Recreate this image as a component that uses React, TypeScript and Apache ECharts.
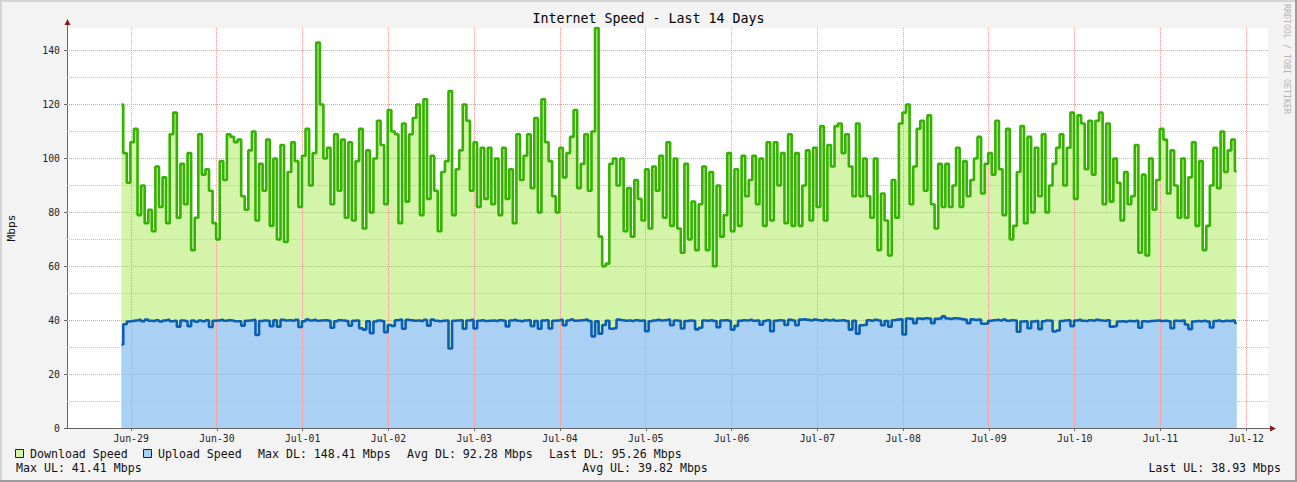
import React, { useEffect, useRef } from "react";
import * as echarts from "echarts";

// ---------- data ----------
// hours are counted from Jun-29 00:00; one sample per hour
const FIRST_SAMPLE_HOUR = -2.7;
const X_MIN_HOUR = -17.93;
const X_MAX_HOUR = 318.07;

const dayLabels = [
  "Jun-29", "Jun-30", "Jul-01", "Jul-02", "Jul-03", "Jul-04", "Jul-05",
  "Jul-06", "Jul-07", "Jul-08", "Jul-09", "Jul-10", "Jul-11", "Jul-12",
];
const dayHours = [0, 24, 48, 72, 96, 120, 144, 168, 192, 216, 240, 264, 288, 312];
const yMajorTicks = [0, 20, 40, 60, 80, 100, 120, 140];
const yMinorTicks = [10, 30, 50, 70, 90, 110, 130];
const Y_MAX = 148.41;

const downloadMbps = [
  120, 102, 91, 106, 111, 79, 90, 76, 81, 73, 97, 82, 93, 76, 109, 117, 78, 98, 83, 102, 66, 78, 109, 94, 96, 88, 76, 70, 99, 92, 109, 108, 106,
  107, 86, 81, 103, 110, 77, 98, 88, 107, 75, 100, 70, 105, 69, 95, 106, 99, 82, 101, 111, 90, 102, 143, 120, 100, 104, 83, 109, 88, 107, 78, 106, 77, 99, 111,
  74, 103, 80, 100, 114, 105, 83, 118, 110, 109, 76, 113, 84, 109, 115, 120, 79, 122, 85, 101, 88, 73, 95, 99, 125, 79, 96, 103, 120, 114, 88, 106, 82, 104, 85,
  104, 83, 100, 79, 104, 85, 96, 76, 109, 92, 101, 109, 89, 115, 80, 122, 106, 99, 86, 80, 104, 93, 102, 108, 118, 89, 98, 109, 88, 110, 148.41, 71, 60, 61, 98,
  100, 90, 100, 73, 89, 71, 92, 85, 77, 96, 74, 97, 88, 101, 78, 106, 75, 100, 74, 65, 98, 70, 84, 66, 83, 97, 66, 95, 60, 90, 71, 79, 102, 73, 96,
  75, 101, 86, 92, 101, 83, 100, 75, 106, 77, 106, 90, 102, 76, 109, 75, 102, 75, 90, 103, 77, 104, 82, 112, 77, 105, 97, 112, 113, 102, 109, 97, 86, 113, 86,
  100, 86, 78, 100, 66, 87, 77, 64, 92, 78, 113, 117, 120, 83, 97, 111, 114, 88, 116, 83, 74, 98, 82, 98, 82, 90, 104, 82, 99, 86, 92, 100, 108, 87, 98,
  102, 94, 114, 96, 79, 111, 70, 75, 95, 112, 76, 108, 80, 104, 86, 109, 80, 90, 98, 104, 109, 90, 104, 117, 85, 116, 113, 96, 114, 94, 114, 117, 83, 113, 84,
  100, 91, 77, 95, 83, 86, 105, 65, 94, 64, 100, 81, 92, 111, 107, 87, 103, 90, 78, 100, 78, 93, 106, 75, 99, 66, 75, 90, 104, 89, 110, 95, 103, 107, 95.26,
];

const uploadMbps = [
  31, 38.5, 39.5, 39.7, 39.9, 40.1, 39.6, 40.2, 39.8, 39.7, 40.0, 39.5, 39.9, 40.1, 39.6, 39.8, 37.6, 39.9, 39.7, 37.8, 39.9, 39.4, 39.9, 39.6, 40.0, 37.5, 39.8, 39.9, 40.1, 39.8, 40.0, 39.9, 39.6,
  39.6, 38.0, 39.8, 39.9, 40.1, 34.5, 39.7, 39.9, 39.8, 37.8, 40.0, 37.6, 40.1, 39.9, 40.0, 39.8, 40.1, 37.5, 39.6, 40.2, 39.9, 40.1, 39.8, 39.9, 40.0, 39.8, 37.2, 39.6, 40.0, 39.9, 39.7, 38.0, 39.8, 39.9, 37.0,
  36.5, 39.6, 35.2, 39.5, 39.9, 39.7, 35.5, 38.2, 37.9, 40.0, 40.2, 36.8, 40.1, 40.0, 39.8, 39.9, 39.7, 40.1, 38.0, 40.2, 39.8, 39.6, 39.8, 39.9, 29.5, 39.8, 39.9, 40.0, 36.8, 39.9, 40.1, 36.9, 39.8, 40.0, 39.7,
  39.8, 39.9, 39.7, 40.0, 39.8, 37.7, 39.9, 40.1, 39.8, 39.6, 39.9, 40.0, 37.8, 39.7, 36.8, 39.9, 40.0, 36.9, 39.8, 39.9, 40.1, 38.1, 39.9, 40.2, 39.8, 39.9, 40.0, 40.2, 39.7, 34.0, 39.6, 35.0, 38.2, 39.8, 36.8,
  37.0, 40.2, 40.0, 39.8, 39.9, 39.7, 40.0, 39.8, 39.9, 35.9, 39.6, 39.9, 40.1, 39.9, 40.0, 40.2, 38.1, 39.9, 39.8, 36.9, 39.7, 39.9, 39.8, 36.6, 37.2, 39.9, 39.8, 40.0, 39.7, 37.4, 39.9, 40.0, 39.8, 36.5, 37.9,
  39.8, 40.0, 39.9, 40.1, 39.8, 39.9, 38.3, 39.7, 40.0, 35.9, 39.8, 40.0, 39.9, 38.2, 40.1, 39.9, 38.1, 40.2, 40.3, 40.1, 39.9, 40.2, 40.0, 39.8, 40.1, 39.9, 40.1, 39.8, 39.9, 40.0, 39.7, 36.5, 39.8, 35.0, 38.1,
  38.2, 40.0, 39.8, 40.1, 39.9, 38.1, 39.7, 37.6, 40.0, 40.2, 40.3, 34.7, 40.6, 40.5, 38.9, 40.6, 40.5, 40.7, 40.6, 38.9, 40.5, 40.6, 41.41, 40.6, 40.5, 40.7, 40.6, 40.4, 40.2, 38.9, 40.3, 40.1, 40.2, 38.7, 38.8,
  39.8, 40.0, 40.1, 39.9, 40.2, 39.8, 40.0, 39.9, 35.7, 39.5, 39.6, 37.0, 39.5, 39.7, 36.7, 39.6, 39.9, 39.8, 35.8, 36.2, 39.7, 39.9, 40.0, 37.8, 39.9, 40.1, 39.8, 39.7, 40.0, 39.8, 40.1, 39.9, 39.8, 40.0, 37.6,
  37.8, 39.5, 39.6, 39.4, 39.7, 39.6, 39.8, 37.2, 39.6, 39.5, 39.7, 39.8, 39.9, 39.7, 39.8, 39.6, 37.0, 39.8, 39.7, 39.9, 38.4, 36.7, 39.5, 39.7, 39.6, 39.8, 39.5, 37.3, 39.7, 39.9, 39.6, 39.8, 39.7, 39.9, 38.93,
];

const legendRow1 = [
  { text: "Max DL: 148.41 Mbps", x: 258 },
  { text: "Avg DL: 92.28 Mbps", x: 407 },
  { text: "Last DL: 95.26 Mbps", x: 549 },
];

// ---------- styling ----------
const W = 1297;
const H = 482;
const FONT = '"DejaVu Sans Mono", "Liberation Mono", monospace';
const DL_FILL = "#d4f4aa";
const DL_LINE = "#33b200";
const UL_FILL = "#aad0f4";
const UL_LINE = "#0a5db5";
const MAJOR_COLOR = "#ec9a9a";
const MINOR_COLOR = "#c4c4c4";

function crisp(v: number) {
  return Math.round(v - 0.5) + 0.5;
}

function gridSeries(name: string, data: number[][], vertical: boolean, color: string) {
  return {
    name,
    type: "custom",
    data,
    encode: { x: 0, y: 1 },
    silent: true,
    z: 5,
    clip: true,
    renderItem: (params: any, api: any) => {
      const cs = params.coordSys;
      const p = api.coord([api.value(0), api.value(1)]);
      const shape = vertical
        ? { x1: crisp(p[0]), y1: cs.y, x2: crisp(p[0]), y2: cs.y + cs.height }
        : { x1: cs.x, y1: crisp(p[1]), x2: cs.x + cs.width, y2: crisp(p[1]) };
      return {
        type: "line",
        shape,
        style: { stroke: color, lineWidth: 1, lineDash: [1, 1] },
      };
    },
  };
}

function buildOption() {
  const dl = downloadMbps.map((v, i) => [FIRST_SAMPLE_HOUR + i, v]);
  const ul = uploadMbps.map((v, i) => [FIRST_SAMPLE_HOUR + i, v]);

  const textStyle = (size: number, color = "#111") => ({
    fontFamily: FONT,
    fontSize: size,
    fill: color,
  });

  const graphic: any[] = [
    // frame
    { type: "line", shape: { x1: 0, y1: 1, x2: W, y2: 1 }, style: { stroke: "#d4d4d4", lineWidth: 2 }, silent: true },
    { type: "line", shape: { x1: 1, y1: 0, x2: 1, y2: H }, style: { stroke: "#d4d4d4", lineWidth: 2 }, silent: true },
    { type: "line", shape: { x1: 0, y1: H - 1, x2: W, y2: H - 1 }, style: { stroke: "#9c9c9c", lineWidth: 2 }, silent: true },
    { type: "line", shape: { x1: W - 1, y1: 0, x2: W - 1, y2: H }, style: { stroke: "#9c9c9c", lineWidth: 2 }, silent: true },
    // axis extensions + arrows
    { type: "line", shape: { x1: 67.5, y1: 22, x2: 67.5, y2: 28 }, style: { stroke: "#666", lineWidth: 1 }, silent: true },
    { type: "line", shape: { x1: 1268, y1: 428.5, x2: 1272, y2: 428.5 }, style: { stroke: "#666", lineWidth: 1 }, silent: true },
    { type: "polygon", shape: { points: [[64.5, 25], [70.5, 25], [67.5, 19]] }, style: { fill: "#8b1a1a" }, silent: true },
    { type: "polygon", shape: { points: [[1270, 425.5], [1270, 431.5], [1276, 428.5]] }, style: { fill: "#8b1a1a" }, silent: true },
    // y-axis title
    {
      type: "text", x: 11, y: 228, rotation: Math.PI / 2, silent: true,
      style: { text: "Mbps", align: "center", verticalAlign: "middle", ...textStyle(11.2) },
    },
    // watermark
    {
      type: "text", x: 1287, y: 4, rotation: -Math.PI / 2, silent: true,
      style: { text: "RRDTOOL / TOBI OETIKER", align: "left", verticalAlign: "middle", ...textStyle(8.3, "#b4b4b4") },
    },
    // legend row 1
    { type: "rect", shape: { x: 15.5, y: 449.5, width: 8, height: 8 }, style: { fill: DL_FILL, stroke: "#222", lineWidth: 1 }, silent: true },
    { type: "text", x: 30, y: 454, silent: true, style: { text: "Download Speed", verticalAlign: "middle", ...textStyle(11.6) } },
    { type: "rect", shape: { x: 143.5, y: 449.5, width: 8, height: 8 }, style: { fill: UL_FILL, stroke: "#222", lineWidth: 1 }, silent: true },
    { type: "text", x: 158, y: 454, silent: true, style: { text: "Upload Speed", verticalAlign: "middle", ...textStyle(11.6) } },
    ...legendRow1.map((t) => ({
      type: "text", x: t.x, y: 454, silent: true,
      style: { text: t.text, verticalAlign: "middle", ...textStyle(11.6) },
    })),
    // legend row 2
    { type: "text", x: 16, y: 468, silent: true, style: { text: "Max UL: 41.41 Mbps", verticalAlign: "middle", ...textStyle(11.6) } },
    { type: "text", x: 645, y: 468, silent: true, style: { text: "Avg UL: 39.82 Mbps", align: "center", verticalAlign: "middle", ...textStyle(11.6) } },
    { type: "text", x: 1281, y: 468, silent: true, style: { text: "Last UL: 38.93 Mbps", align: "right", verticalAlign: "middle", ...textStyle(11.6) } },
  ];

  return {
    animation: false,
    backgroundColor: "#f3f3f3",
    title: {
      text: "Internet Speed - Last 14 Days",
      left: "center",
      top: 12,
      padding: 0,
      textStyle: { fontFamily: FONT, fontSize: 13.3, fontWeight: "normal", color: "#000" },
    },
    grid: {
      left: 67, top: 28, width: 1201, height: 400,
      show: true, backgroundColor: "#ffffff", borderWidth: 0,
      containLabel: false, outerBoundsMode: "none",
    },
    xAxis: {
      type: "value",
      min: X_MIN_HOUR,
      max: X_MAX_HOUR,
      splitLine: { show: false },
      axisLine: { show: true, onZero: false, lineStyle: { color: "#666", width: 1 } },
      axisTick: { show: true, customValues: dayHours, length: 3, lineStyle: { color: "#666" } },
      axisLabel: {
        show: true,
        customValues: dayHours,
        formatter: (v: number) => dayLabels[Math.round(v / 24)] ?? "",
        fontFamily: FONT, fontSize: 9.8, color: "#222", margin: 5,
      },
    },
    yAxis: {
      type: "value",
      min: 0,
      max: Y_MAX,
      splitLine: { show: false },
      axisLine: { show: true, onZero: false, lineStyle: { color: "#666", width: 1 } },
      axisTick: { show: true, customValues: yMajorTicks, length: 3, lineStyle: { color: "#666" } },
      axisLabel: {
        show: true,
        customValues: yMajorTicks,
        fontFamily: FONT, fontSize: 9.8, color: "#222", margin: 7,
      },
    },
    graphic,
    series: [
      {
        name: "Download Area", type: "line", step: "middle", data: dl, symbol: "none",
        lineStyle: { width: 0, opacity: 0 }, areaStyle: { color: DL_FILL, opacity: 1 },
        z: 2, silent: true,
      },
      {
        name: "Upload Area", type: "line", step: "middle", data: ul, symbol: "none",
        lineStyle: { width: 0, opacity: 0 }, areaStyle: { color: UL_FILL, opacity: 1 },
        z: 3, silent: true,
      },
      gridSeries("minor grid", yMinorTicks.map((v) => [X_MIN_HOUR, v]), false, MINOR_COLOR),
      gridSeries("major grid", yMajorTicks.filter((v) => v > 0).map((v) => [X_MIN_HOUR, v]), false, MAJOR_COLOR),
      gridSeries("day grid", dayHours.map((h) => [h, 0]), true, MAJOR_COLOR),
      {
        name: "Download Speed", type: "line", step: "middle", data: dl, symbol: "none",
        lineStyle: { width: 2.6, color: DL_LINE }, z: 10, silent: true,
      },
      {
        name: "Upload Speed", type: "line", step: "middle", data: ul, symbol: "none",
        lineStyle: { width: 2.6, color: UL_LINE }, z: 11, silent: true,
      },
    ],
  };
}

export default function App() {
  const ref = useRef<HTMLDivElement>(null);
  useEffect(() => {
    if (!ref.current) return;
    const chart = echarts.init(ref.current, null, { renderer: "svg", width: W, height: H });
    chart.setOption(buildOption() as any);
    return () => chart.dispose();
  }, []);
  return (
    <div
      ref={ref}
      style={{ position: "fixed", left: 0, top: 0, width: W, height: H }}
    />
  );
}
